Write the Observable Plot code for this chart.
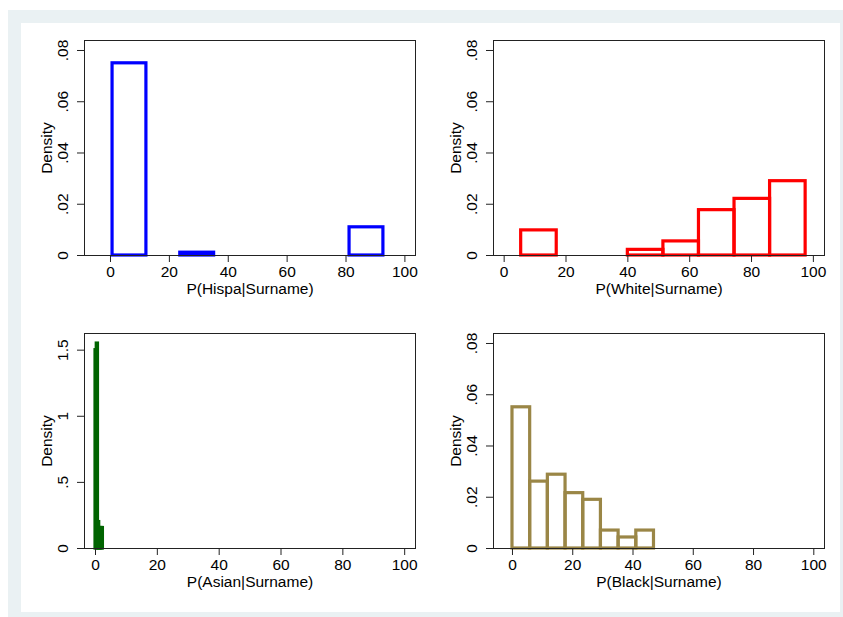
<!DOCTYPE html>
<html>
<head>
<meta charset="utf-8">
<script src="https://cdn.jsdelivr.net/npm/d3@7"></script>
<script src="https://cdn.jsdelivr.net/npm/@observablehq/plot@0.6"></script>
<style>
  html, body { margin: 0; padding: 0; background: #fff; }
  #bg { position: absolute; left: 8px; top: 10px; width: 835px; height: 607px; background: #eaf1f3; }
  #inner { position: absolute; left: 21px; top: 23px; width: 819px; height: 589px; background: #fff; }
  .panel { position: absolute; }
</style>
</head>
<body>
<div id="bg"></div>
<div id="inner"></div>
<script>
// ---- data ----
const xTicks = [0, 20, 40, 60, 80, 100];
const densityTicks = [0, 0.02, 0.04, 0.06, 0.08];
const densityTickLabels = ["0", ".02", ".04", ".06", ".08"];
const asianTicks = [0, 0.5, 1, 1.5];
const asianTickLabels = ["0", ".5", "1", "1.5"];

const hispaEdges = [0.7, 12.2, 23.7, 35.2, 46.7, 58.2, 69.7, 81.2, 92.7];
const hispaDensity = [0.075, 0, 0.0011, 0, 0, 0, 0, 0.011];

const whiteEdges = [5.5, 17, 28.5, 40, 51.5, 63, 74.5, 86, 97.5];
const whiteDensity = [0.0098, 0, 0, 0.0022, 0.0055, 0.0177, 0.0221, 0.029];

const asianEdges = [0, 0.4, 0.8, 1.2, 1.6, 2.0, 2.4];
const asianDensity = [1.5, 1.55, 0.2, 0.155, 0.155, 0.155];

const blackEdges = [0, 5.87, 11.74, 17.61, 23.48, 29.35, 35.22, 41.09, 46.96];
const blackDensity = [0.0551, 0.0261, 0.0288, 0.0216, 0.019, 0.007, 0.0043, 0.007];

const xLabels = ["P(Hispa|Surname)", "P(White|Surname)", "P(Asian|Surname)", "P(Black|Surname)"];
const colors = ["#0000ff", "#ff0000", "#006400", "#9a8646"];

const FONT = "'Liberation Sans', Arial, Helvetica, sans-serif";

function panel({edges, dens, color, xDomain, yDomain, yTicks, yLabels, xLabel, left, top}) {
  const bins = dens.map((d, i) => ({x1: edges[i], x2: edges[i + 1], density: d}))
                   .filter(b => b.density > 0);
  const plot = Plot.plot({
    width: 400,
    height: 285,
    marginLeft: 63,
    marginRight: 6,
    marginTop: 17,
    marginBottom: 53,
    style: {fontFamily: FONT, fontSize: "15.5px", color: "#000", background: "transparent", overflow: "visible"},
    x: {domain: xDomain, axis: null},
    y: {domain: yDomain, axis: null},
    marks: [
      Plot.rect(bins, {x1: "x1", x2: "x2", y1: d => 0, y2: "density", fill: "none", stroke: color, strokeWidth: 3.2}),
      Plot.frame({stroke: "#222", strokeWidth: 1}),
      Plot.axisX(xTicks, {tickSize: 7, tickPadding: 3, label: null, stroke: "#222", fontSize: 15.5}),
      Plot.axisY(yTicks, {tickSize: 7, tickFormat: () => "", label: null, stroke: "#222"}),
      Plot.text(yTicks, {y: d => d, text: (d, i) => yLabels[i], frameAnchor: "left", dx: -21, rotate: -90, lineAnchor: "middle", textAnchor: "middle", fontSize: 15.5, fill: "#000"}),
      Plot.text(["Density"], {text: d => d, frameAnchor: "left", dx: -37, rotate: -90, lineAnchor: "middle", textAnchor: "middle", fontSize: 15.5, fill: "#000"}),
      Plot.text([xLabel], {text: d => d, frameAnchor: "bottom", dy: 27.7, lineAnchor: "top", textAnchor: "middle", fontSize: 15.5, fill: "#000"})
    ]
  });
  const wrap = document.createElement("div");
  wrap.className = "panel";
  wrap.style.left = left + "px";
  wrap.style.top = top + "px";
  wrap.appendChild(plot);
  document.body.appendChild(wrap);
}

panel({edges: hispaEdges, dens: hispaDensity, color: colors[0], xDomain: [-8.83, 103.6], yDomain: [0, 0.0839],
       yTicks: densityTicks, yLabels: densityTickLabels, xLabel: xLabels[0], left: 21, top: 23});
panel({edges: whiteEdges, dens: whiteDensity, color: colors[1], xDomain: [-3.45, 103.6], yDomain: [0, 0.0839],
       yTicks: densityTicks, yLabels: densityTickLabels, xLabel: xLabels[1], left: 430, top: 23});
panel({edges: asianEdges, dens: asianDensity, color: colors[2], xDomain: [-3.56, 103.5], yDomain: [0, 1.626],
       yTicks: asianTicks, yLabels: asianTickLabels, xLabel: xLabels[2], left: 21, top: 316});
panel({edges: blackEdges, dens: blackDensity, color: colors[3], xDomain: [-6.3, 103.55], yDomain: [0, 0.0839],
       yTicks: densityTicks, yLabels: densityTickLabels, xLabel: xLabels[3], left: 430, top: 316});
</script>
</body>
</html>
